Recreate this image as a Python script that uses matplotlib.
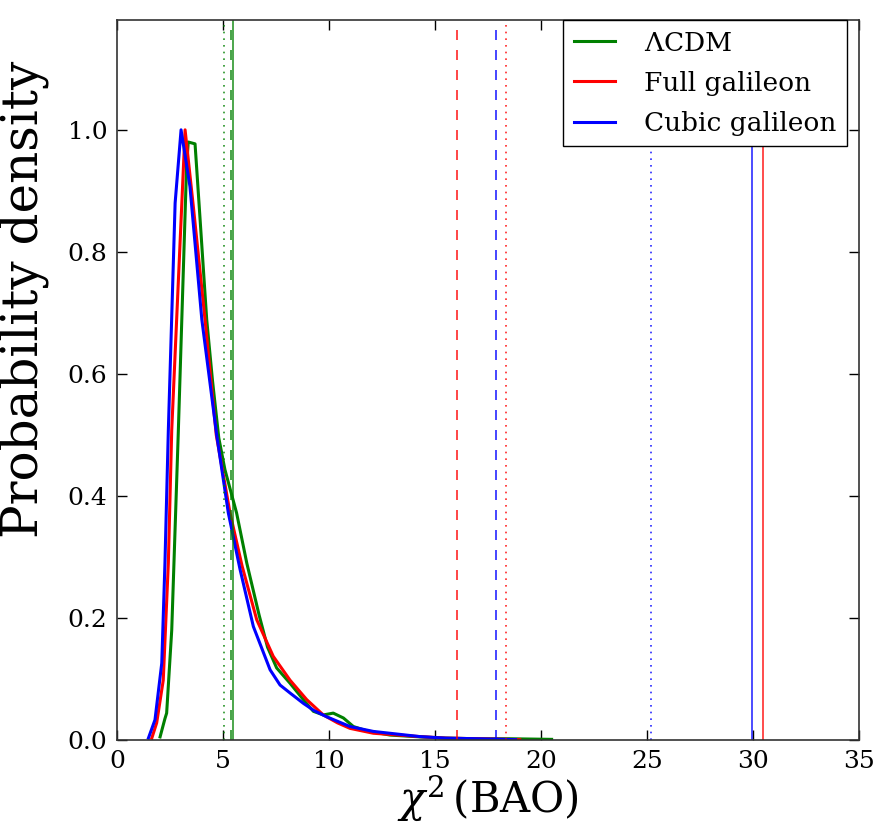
import matplotlib
matplotlib.use("Agg")
import matplotlib.pyplot as plt

plt.rcParams['font.family'] = ['DejaVu Serif']
plt.rcParams['mathtext.fontset'] = 'dejavuserif'

# ---- data ----
lcdm_x = [2.03, 2.26, 2.34, 2.58, 2.89, 3.28, 3.36, 3.68, 3.92, 4.23, 4.5, 4.8,
          5.09, 5.64, 6.12, 6.7, 7.1, 7.53, 8.16, 8.79, 9.26, 9.73, 10.2, 10.68, 11.15,
          11.78, 12.88, 14.3, 15.5, 17.0, 18.5, 20.5]
lcdm_y = [0.005, 0.035, 0.044, 0.18, 0.505, 0.94, 0.98, 0.977, 0.852, 0.689, 0.59, 0.495,
          0.443, 0.372, 0.29, 0.205, 0.152, 0.118, 0.093, 0.066, 0.047, 0.041, 0.044, 0.036, 0.022,
          0.015, 0.008, 0.005, 0.003, 0.002, 0.002, 0.001]

full_x = [1.64, 1.87, 2.18, 2.42, 2.58, 2.9, 3.21, 3.6, 4.15, 4.68, 5.33, 5.9,
          6.59, 7.37, 8.16, 8.95, 9.73, 10.4, 10.99, 12.09, 14.29, 15.5, 17.0, 19.0]
full_y = [0.003, 0.028, 0.098, 0.29, 0.508, 0.758, 1.0, 0.874, 0.689, 0.5, 0.372, 0.285,
          0.197, 0.137, 0.098, 0.066, 0.041, 0.028, 0.019, 0.011, 0.0055, 0.003, 0.002, 0.0005]

cubic_x = [1.48, 1.79, 2.11, 2.26, 2.42, 2.74, 3.02, 3.44, 4.0, 4.7, 5.25, 5.8,
           6.43, 7.22, 7.69, 8.16, 8.79, 9.3, 9.89, 10.99, 12.09, 14.29, 15.5, 17.0, 18.8]
cubic_y = [0.003, 0.033, 0.126, 0.29, 0.508, 0.88, 1.0, 0.907, 0.689, 0.5, 0.372, 0.28,
           0.186, 0.115, 0.09, 0.077, 0.06, 0.048, 0.038, 0.022, 0.014, 0.0055, 0.003, 0.002, 0.0005]

# vertical markers: (solid, dashed, dotted) per model
lcdm_marks = [5.46, 5.38, 5.05]
full_marks = [30.46, 16.02, 18.35]
cubic_marks = [29.97, 17.86, 25.19]

labels = [r'$\Lambda$CDM', 'Full galileon', 'Cubic galileon']
colors = ['green', 'red', 'blue']

fig = plt.figure(figsize=(8.82, 8.23), dpi=100)
ax = fig.add_axes([0.1327, 0.1009, 0.9739 - 0.1327, 0.9757 - 0.1009])

for xs, ys, c, lab in zip([lcdm_x, full_x, cubic_x], [lcdm_y, full_y, cubic_y], colors, labels):
    ax.plot(xs, ys, color=c, lw=2.2, label=lab)

for marks, c in zip([lcdm_marks, full_marks, cubic_marks], colors):
    ax.axvline(marks[0], color=c, lw=1.4, alpha=0.7, ls='-')
    ax.axvline(marks[1], color=c, lw=1.2, alpha=0.85, ls=(0, (6, 6)))
    ax.axvline(marks[2], color=c, lw=1.2, alpha=0.85, ls=(0, (1, 3)))

ax.set_xlim(0, 35)
ax.set_ylim(0, 1.18)
ax.set_xticks(range(0, 36, 5))
ax.set_yticks([0.0, 0.2, 0.4, 0.6, 0.8, 1.0])
ax.set_yticklabels(['0.0', '0.2', '0.4', '0.6', '0.8', '1.0'])
ax.tick_params(direction='in', length=7, width=1, labelsize=18, pad=7,
               top=True, right=True)
for s in ax.spines.values():
    s.set_linewidth(1.2)
    s.set_color('#333333')

ax.set_xlabel(r'$\chi^2\,$(BAO)', fontsize=30, labelpad=0)
ax.set_ylabel('Probability density', fontsize=36)
ax.yaxis.set_label_coords(-0.092, 0.6125)

leg = ax.legend(loc='upper right', bbox_to_anchor=(0.9835, 1.0), borderaxespad=0,
                fontsize=19, fancybox=False, framealpha=1, edgecolor='black',
                handlelength=1.55, handletextpad=1.1, labelspacing=0.575, borderpad=0.4)
leg.get_frame().set_linewidth(1.0)

fig.savefig('out.png', dpi=100)
